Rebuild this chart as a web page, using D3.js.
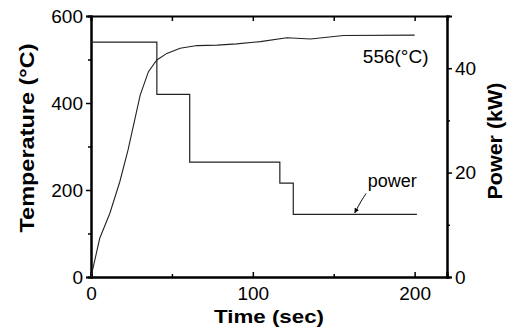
<!DOCTYPE html>
<html>
<head>
<meta charset="utf-8">
<script src="https://cdn.jsdelivr.net/npm/d3@7"></script>
<style>
  body { margin: 0; background: #fff; }
  svg { display: block; }
  text { font-family: "Liberation Sans", Arial, sans-serif; fill: #000; }
</style>
</head>
<body>
<svg id="chart" width="513" height="333"></svg>
<script>
// temperature curve (sec, degC)
const tempTime = [0, 5.4, 11.6, 17.8, 22.9, 30.4, 35.5, 40.7, 46.9, 55.1, 65.5, 78, 90, 104.7, 121, 135.7, 156, 200];
const tempVals = [0, 89, 146, 219, 292, 418, 472, 499, 514, 526, 532, 533, 536, 541, 550, 547, 555, 556];

// power steps (sec, kW)
const powerTime = [0, 40.7, 61, 116.7, 125, 201.4];
const powerVals = [45, 35, 22, 18, 12, 12];

const xTicks = [0, 100, 200];
const xMinor = [50, 150];
const tempTicks = [0, 200, 400, 600];
const tempMinor = [100, 300, 500];
const powerTicks = [0, 20, 40];
const powerMinor = [10, 30];

// annotations
const endLabel = { t: 168, v: 492, text: "556(°C)" };
const powerLabel = { t: 171, v: 17.2, text: "power" };
const powerArrow = [[170, 16], [167, 14.6], [163, 12.3]];

const svg = d3.select('#chart');
const margin = { top: 16, bottom: 56, left: 91, right: 66 };
const width = +svg.attr('width');
const height = +svg.attr('height');

let x = d3.scaleLinear().domain([0, 220]).range([margin.left, width - margin.right]);
let y = d3.scaleLinear().domain([0, 600]).range([height - margin.bottom, margin.top]);
let y2 = d3.scaleLinear().domain([0, 50]).range([height - margin.bottom, margin.top]);

const fs = 19;

// axes
let xAxis = g => g
  .attr("transform", `translate(0,${y(0)})`)
  .call(d3.axisBottom(x).tickValues(xTicks).tickSize(-5).tickPadding(10).tickFormat(d3.format("d")));
let xMinorAxis = g => g
  .attr("transform", `translate(0,${y(0)})`)
  .call(d3.axisBottom(x).tickValues(xMinor).tickSize(-3).tickFormat(""));
let xTop = g => g
  .attr("transform", `translate(0,${y(600)})`)
  .call(d3.axisTop(x).tickValues(xTicks.concat(xMinor)).tickSize(-5).tickFormat(""));
let yAxis = g => g
  .attr("transform", `translate(${x(0)},0)`)
  .call(d3.axisLeft(y).tickValues(tempTicks).tickSize(5).tickPadding(3));
let yMinorAxis = g => g
  .attr("transform", `translate(${x(0)},0)`)
  .call(d3.axisLeft(y).tickValues(tempMinor).tickSize(3).tickFormat(""));
let y2Axis = g => g
  .attr("transform", `translate(${x(220)},0)`)
  .call(d3.axisRight(y2).tickValues(powerTicks).tickSize(5).tickPadding(3));
let y2MinorAxis = g => g
  .attr("transform", `translate(${x(220)},0)`)
  .call(d3.axisRight(y2).tickValues(powerMinor).tickSize(3).tickFormat(""));

[xAxis, xMinorAxis, xTop, yAxis, yMinorAxis, y2Axis, y2MinorAxis].forEach(a => {
  const g = svg.append("g").call(a);
  g.select(".domain").attr("stroke", "#000").attr("stroke-width", 2);
  g.selectAll(".tick line").attr("stroke", "#000").attr("stroke-width", 1.5);
  g.selectAll(".tick text").attr("font-size", fs).attr("font-family", "Liberation Sans, Arial, sans-serif").attr("fill", "#000");
});

// power line
let powerLine = d3.line()
  .curve(d3.curveStepAfter)
  .x((d, i) => x(powerTime[i]))
  .y(d => y2(d));
svg.append("path")
  .datum(powerVals)
  .attr("fill", "none")
  .attr("stroke", "#222")
  .attr("stroke-width", 1.2)
  .attr("d", powerLine);

// temperature line
let tempLine = d3.line()
  .x((d, i) => x(tempTime[i]))
  .y(d => y(d));
svg.append("path")
  .datum(tempVals)
  .attr("fill", "none")
  .attr("stroke", "#222")
  .attr("stroke-width", 1.1)
  .attr("d", tempLine);

// labels
svg.append("text")
  .attr("x", x(endLabel.t))
  .attr("y", y(endLabel.v))
  .attr("font-size", fs)
  .text(endLabel.text);

svg.append("text")
  .attr("x", x(powerLabel.t))
  .attr("y", y2(powerLabel.v))
  .attr("font-size", 18)
  .text(powerLabel.text);

svg.append("defs").append("marker")
  .attr("id", "arr")
  .attr("viewBox", "0 0 10 10")
  .attr("refX", 9).attr("refY", 5)
  .attr("markerWidth", 5).attr("markerHeight", 5)
  .attr("orient", "auto")
  .append("path").attr("d", "M0,0L10,5L0,10z").attr("fill", "#000");

svg.append("path")
  .datum(powerArrow)
  .attr("fill", "none")
  .attr("stroke", "#000")
  .attr("stroke-width", 1)
  .attr("marker-end", "url(#arr)")
  .attr("d", d3.line().curve(d3.curveBasis).x(d => x(d[0])).y(d => y2(d[1])));

// axis titles
svg.append("text")
  .attr("x", (x(0) + x(220)) / 2)
  .attr("y", 323)
  .attr("text-anchor", "middle")
  .attr("font-size", 19)
  .attr("font-weight", "bold")
  .attr("textLength", 110)
  .attr("lengthAdjust", "spacingAndGlyphs")
  .text("Time (sec)");

svg.append("text")
  .attr("transform", "translate(34,138) rotate(-90)")
  .attr("text-anchor", "middle")
  .attr("font-size", 20)
  .attr("font-weight", "bold")
  .attr("textLength", 189)
  .attr("lengthAdjust", "spacingAndGlyphs")
  .text("Temperature (°C)");

svg.append("text")
  .attr("transform", "translate(502,141) rotate(-90)")
  .attr("text-anchor", "middle")
  .attr("font-size", 20)
  .attr("font-weight", "bold")
  .attr("textLength", 117)
  .attr("lengthAdjust", "spacingAndGlyphs")
  .text("Power (kW)");
</script>
</body>
</html>
